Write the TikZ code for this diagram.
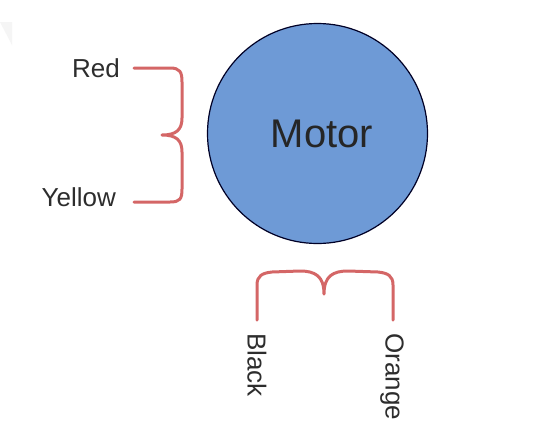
\documentclass[tikz,border=0pt]{standalone}
\usepackage{fontspec}
\setmainfont{Liberation Sans}
\definecolor{motorblue}{RGB}{110,154,214}
\definecolor{bracered}{RGB}{212,102,102}
\definecolor{txtgray}{RGB}{45,45,45}
\begin{document}
\begin{tikzpicture}[x=1pt,y=-1pt,
  brace/.style={draw=bracered,line width=3pt,line cap=round,line join=round},
  wire/.style={font=\fontsize{26}{28}\selectfont,text=txtgray,inner sep=0pt}]
\useasboundingbox[fill=white] (0,0) rectangle (559,429);
\fill[gray!8] (0,22) -- (12,22) -- (12,45) -- cycle;
% motor
\node[circle,draw=black!85!blue,line width=1.2pt,fill=motorblue,minimum size=220pt,inner sep=0pt,
  font=\fontsize{40}{44}\selectfont,text=black!85] (motor) at (317.5,133.5) {\hspace*{9pt}Motor};
% labels
\node[wire,anchor=east] (red) at (120,68) {Red};
\node[wire,anchor=east] (yellow) at (116,197) {Yellow};
\node[wire,rotate=-90,anchor=west] (black) at (257,333) {Black};
\node[wire,rotate=-90,anchor=west] (orange) at (392,333) {Orange};
% left brace
\coordinate (lt) at (134,68);
\coordinate (lb) at (134,202);
\coordinate (ltip) at (162,135);
\draw[brace] (lt) -- (170,68) .. controls (180,68) and (182,72) .. (182,82)
  -- (182,118) .. controls (182,130) and (176,135) .. (ltip)
  .. controls (176,135) and (182,140) .. (182,152)
  -- (182,189) .. controls (182,199) and (180,202) .. (170,202) -- (lb);
% bottom brace
\coordinate (bl) at (257,320);
\coordinate (br) at (393,320);
\coordinate (btip) at (324,294);
\draw[brace] (bl) -- (257,285) .. controls (257,276) and (262,273) .. (272,272)
  -- (300,271) .. controls (315,271) and (324,276) .. (btip)
  .. controls (324,276) and (333,271) .. (348,271)
  -- (378,272) .. controls (388,273) and (393,276) .. (393,285) -- (br);
\end{tikzpicture}
\end{document}
